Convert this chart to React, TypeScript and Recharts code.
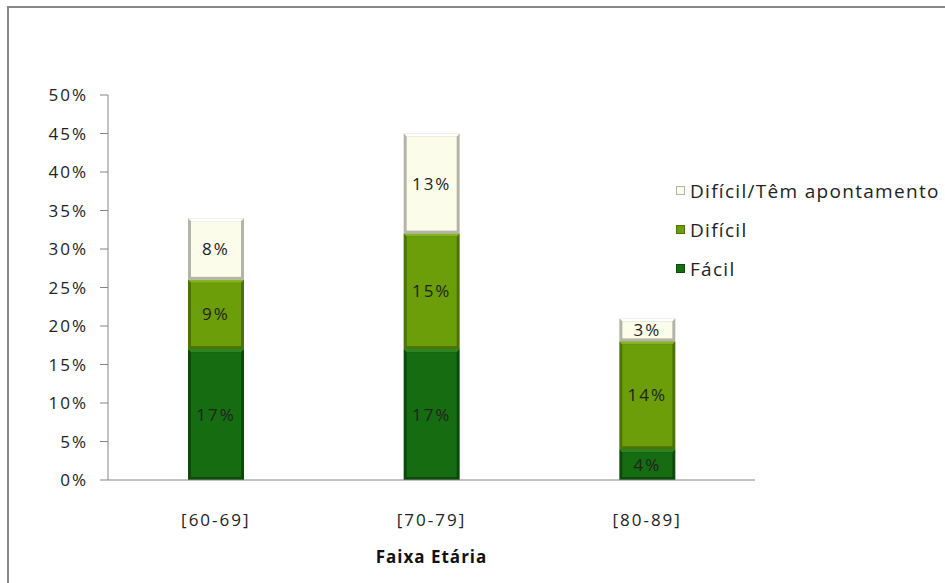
import {BarChart, Bar, XAxis, YAxis, LabelList} from "recharts";

const categories = ["[60-69]", "[70-79]", "[80-89]"];
const facil = [17, 17, 4];
const dificil = [9, 15, 14];
const dificilApont = [8, 13, 3];
const yTicks = [0, 5, 10, 15, 20, 25, 30, 35, 40, 45, 50];

const data = categories.map((c, i) => ({
  cat: c,
  facil: facil[i],
  dificil: dificil[i],
  apont: dificilApont[i],
}));

const series = [
  {key: "facil", name: "Fácil", fill: "#166c11", edge: "#0c4a09", light: "#2c8524"},
  {key: "dificil", name: "Difícil", fill: "#6b9e08", edge: "#4c7304", light: "#86b321"},
  {key: "apont", name: "Difícil/Têm apontamento", fill: "#fbfdea", edge: "#b4b5a6", light: "#ffffff"},
];

const FONT = "'Open Sans', sans-serif";
const textStyle = {fill: "#222", fontSize: 17, fontFamily: FONT, letterSpacing: 2};

function Bevel(props: any) {
  const {x, y, width, height, fill, edge, light} = props;
  if (!height || height <= 0) return null;
  const b = 3;
  return (
    <g>
      <rect x={x} y={y} width={width} height={height} fill={edge} />
      <polygon
        points={`${x},${y} ${x + width},${y} ${x + width - b},${y + b} ${x + b},${y + b}`}
        fill={light}
      />
      <rect x={x + b} y={y + b} width={width - 2 * b} height={height - 2 * b} fill={fill} />
    </g>
  );
}

function LegendBox() {
  return (
    <div
      style={{
        position: "absolute",
        left: 676,
        top: 171,
        fontFamily: FONT,
        fontSize: 19,
        letterSpacing: 1.3,
        color: "#222",
        whiteSpace: "nowrap",
      }}
    >
      {[...series].reverse().map((s) => (
        <div key={s.key} style={{display: "flex", alignItems: "center", height: 39}}>
          <span
            style={{
              display: "inline-block",
              width: 7,
              height: 7,
              background: s.fill,
              border: `1px solid ${s.edge}`,
              marginRight: 5,
            }}
          />
          {s.name}
        </div>
      ))}
    </div>
  );
}

export default function App() {
  return (
    <div style={{position: "absolute", left: 0, top: 0, width: 945, height: 583, background: "#fff", overflow: "hidden"}}>
      <div
        style={{
          position: "absolute",
          left: 7,
          top: 6,
          width: 1000,
          height: 700,
          borderTop: "2px solid #888",
          borderLeft: "2px solid #888",
        }}
      />
      <BarChart
        width={945}
        height={583}
        data={data}
        margin={{top: 95, right: 190, left: 0, bottom: 0}}
        barSize={56}
        style={{position: "absolute", left: 0, top: 0}}
      >
        <XAxis
          dataKey="cat"
          height={103}
          axisLine={{stroke: "#868686"}}
          tickLine={false}
          tickMargin={28}
          tick={textStyle}
          label={{
            value: "Faixa Etária",
            position: "insideBottom",
            offset: 20,
            style: {fontFamily: FONT, fontSize: 17, letterSpacing: 1, fontWeight: "bold", fill: "#111"},
          }}
        />
        <YAxis
          width={108}
          domain={[0, 50]}
          ticks={yTicks}
          interval={0}
          tickFormatter={(v) => `${v}%`}
          axisLine={{stroke: "#868686"}}
          tickLine={{stroke: "#868686"}}
          tickSize={8}
          tickMargin={12}
          tick={textStyle}
        />
        {series.map((s) => (
          <Bar
            key={s.key}
            dataKey={s.key}
            name={s.name}
            stackId="a"
            fill={s.fill}
            isAnimationActive={false}
            shape={(p: any) => <Bevel {...p} fill={s.fill} edge={s.edge} light={s.light} />}
          >
            <LabelList
              dataKey={s.key}
              position="center"
              formatter={(v: any) => `${v}%`}
              style={textStyle}
            />
          </Bar>
        ))}
      </BarChart>
      <LegendBox />
    </div>
  );
}
